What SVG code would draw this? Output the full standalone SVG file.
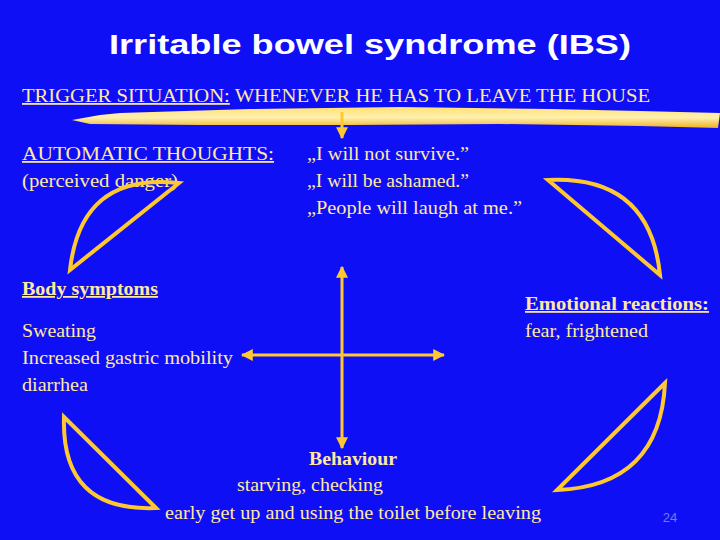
<svg xmlns="http://www.w3.org/2000/svg" width="720" height="540" viewBox="0 0 720 540">
<defs>
<style>
.t{font-family:"Liberation Serif",serif;font-size:18px;fill:#FFE8A0}
.u{text-decoration:underline}
.b{font-weight:bold}
.ln{stroke:#FFC830;stroke-width:3;fill:none}
.cr{stroke:#FFC830;stroke-width:4;fill:none}
</style>
<linearGradient id="br" x1="0" y1="0" x2="0" y2="1">
<stop offset="0" stop-color="#FFE070"/><stop offset="0.5" stop-color="#FFF0B0"/><stop offset="1" stop-color="#F0B020"/>
</linearGradient>
<marker id="ah" viewBox="0 0 10 10" refX="9" refY="5" markerWidth="4" markerHeight="4" orient="auto-start-reverse"><path d="M0,0L10,5L0,10z" fill="#FFC830"/></marker>
</defs>
<rect width="720" height="540" fill="#0F0FF5"/>
<text x="370" y="54" text-anchor="middle" font-family="Liberation Sans,sans-serif" font-size="28" font-weight="bold" fill="#fff" textLength="522" lengthAdjust="spacingAndGlyphs">Irritable bowel syndrome (IBS)</text>
<g id="trigger"><text class="t" x="22" y="102" textLength="628" lengthAdjust="spacingAndGlyphs"><tspan class="u">TRIGGER SITUATION:</tspan> WHENEVER HE HAS TO LEAVE THE HOUSE</text>
<path d="M72,120 L100,115 L120,113 L250,109 L400,107 L550,109 L640,111 L720,113 L718,128 L640,126 L500,124 L350,125 L200,125 L90,124 Z" fill="url(#br)"/></g>
<g id="thoughts"><text class="t u" x="22" y="160" textLength="252" lengthAdjust="spacingAndGlyphs">AUTOMATIC THOUGHTS:</text><text class="t" x="22" y="187" textLength="156" lengthAdjust="spacingAndGlyphs">(perceived danger)</text>
<text class="t" x="307" y="160" textLength="162" lengthAdjust="spacingAndGlyphs">„I will not survive.”</text><text class="t" x="307" y="187" textLength="162" lengthAdjust="spacingAndGlyphs">„I will be ashamed.”</text><text class="t" x="307" y="214" textLength="215" lengthAdjust="spacingAndGlyphs">„People will laugh at me.”</text></g>
<g id="body"><text class="t b u" x="22" y="295" textLength="136" lengthAdjust="spacingAndGlyphs">Body symptoms</text><text class="t" x="22" y="337" textLength="74" lengthAdjust="spacingAndGlyphs">Sweating</text><text class="t" x="22" y="364" textLength="211" lengthAdjust="spacingAndGlyphs">Increased  gastric mobility</text><text class="t" x="22" y="391" textLength="66" lengthAdjust="spacingAndGlyphs">diarrhea</text></g>
<g id="emotion"><text class="t b u" x="525" y="310" textLength="184" lengthAdjust="spacingAndGlyphs">Emotional  reactions:</text><text class="t" x="525" y="337" textLength="123" lengthAdjust="spacingAndGlyphs">fear, frightened</text></g>
<g id="behaviour"><text class="t b" x="309" y="465" textLength="88" lengthAdjust="spacingAndGlyphs">Behaviour</text><text class="t" x="237" y="491" textLength="146" lengthAdjust="spacingAndGlyphs">starving, checking</text><text class="t" x="165" y="519" textLength="376" lengthAdjust="spacingAndGlyphs">early get  up and using the toilet before leaving</text></g>
<text x="670" y="522" text-anchor="middle" font-family="Liberation Sans,sans-serif" font-size="13" fill="#7A7AE0">24</text>
<g id="connectors">
<line class="ln" x1="342" y1="112" x2="342" y2="138" marker-end="url(#ah)"/>
<line class="ln" x1="342" y1="267" x2="342" y2="448" marker-start="url(#ah)" marker-end="url(#ah)"/>
<line class="ln" x1="242" y1="355" x2="444" y2="355" marker-start="url(#ah)" marker-end="url(#ah)"/>
<path class="cr" d="M179,183 L70,270 Q81,172 179,183 Z"/>
<path class="cr" d="M548,180 L660,275 Q650,175 548,180 Z"/>
<path class="cr" d="M665,383 L557,490 Q660,486 665,383 Z"/>
<path class="cr" d="M64,417 L156,508 Q61,512 64,417 Z"/>
</g>
</svg>
